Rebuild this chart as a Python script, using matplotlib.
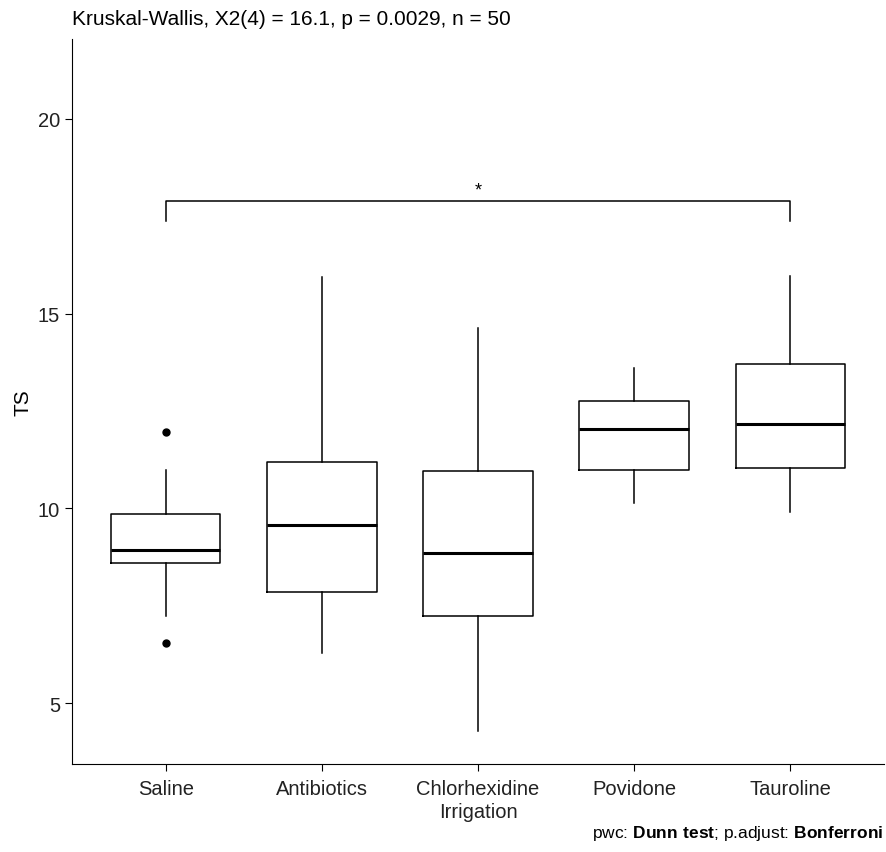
import matplotlib.pyplot as plt

plt.rcParams['font.family'] = ['Liberation Sans', 'DejaVu Sans']
plt.rcParams['mathtext.fontset'] = 'custom'
plt.rcParams['mathtext.rm'] = 'Liberation Sans'
plt.rcParams['mathtext.bf'] = 'Liberation Sans:bold'

groups = ["Saline", "Antibiotics", "Chlorhexidine\nIrrigation", "Povidone", "Tauroline"]
q1 = [8.60, 7.85, 7.25, 11.00, 11.03]
med = [8.93, 9.57, 8.85, 12.05, 12.17]
q3 = [9.87, 11.20, 10.95, 12.75, 13.70]
whislo = [7.25, 6.28, 4.28, 10.15, 9.92]
whishi = [11.00, 15.95, 14.62, 13.60, 15.97]
outliers = [[11.97, 6.54], [], [], [], []]

bracket_y = 17.9
bracket_tip = 17.38

stats = []
for i, g in enumerate(groups):
    stats.append(dict(label=g, q1=q1[i], med=med[i], q3=q3[i],
                      whislo=whislo[i], whishi=whishi[i], fliers=outliers[i]))

fig = plt.figure(figsize=(8.87, 8.53), dpi=100)
ax = fig.add_axes([0.0812, 0.1032, 0.9154, 0.8498])

pos = list(range(1, len(groups) + 1))
ax.bxp(stats, positions=pos, widths=0.7, showcaps=False,
       boxprops=dict(color='black', linewidth=1.1),
       whiskerprops=dict(color='black', linewidth=1.1),
       medianprops=dict(color='black', linewidth=2.2),
       flierprops=dict(marker='o', markerfacecolor='black', markeredgecolor='black',
                       markersize=5))

ax.set_xlim(0.4, 5.6)
ax.set_ylim(3.44, 22.05)
ax.set_yticks([5, 10, 15, 20])
ax.set_xticks(pos)
ax.set_xticklabels(groups, fontsize=14.5, color='#222222', linespacing=1.25)
ax.tick_params(axis='y', labelsize=14.5, labelcolor='#222222')
ax.tick_params(length=5, color='black')
ax.tick_params(axis='x', pad=6)
ax.set_ylabel("TS", fontsize=15)
for s in ['top', 'right']:
    ax.spines[s].set_visible(False)

# bracket Saline vs Tauroline
ax.plot([1, 1, 5, 5], [bracket_tip, bracket_y, bracket_y, bracket_tip], color='black', linewidth=1.1)
ax.text(3, bracket_y + 0.05, "*", ha='center', va='bottom', fontsize=13)

fig.text(0.0812, 0.966, "Kruskal-Wallis, X2(4) = 16.1, p = 0.0029, n = 50", fontsize=15, va='bottom')
fig.text(0.996, 0.012, "pwc: $\\bf{Dunn\\ test}$; p.adjust: $\\bf{Bonferroni}$", fontsize=12.5,
         ha='right', va='bottom')

fig.savefig("out.png", dpi=100)
